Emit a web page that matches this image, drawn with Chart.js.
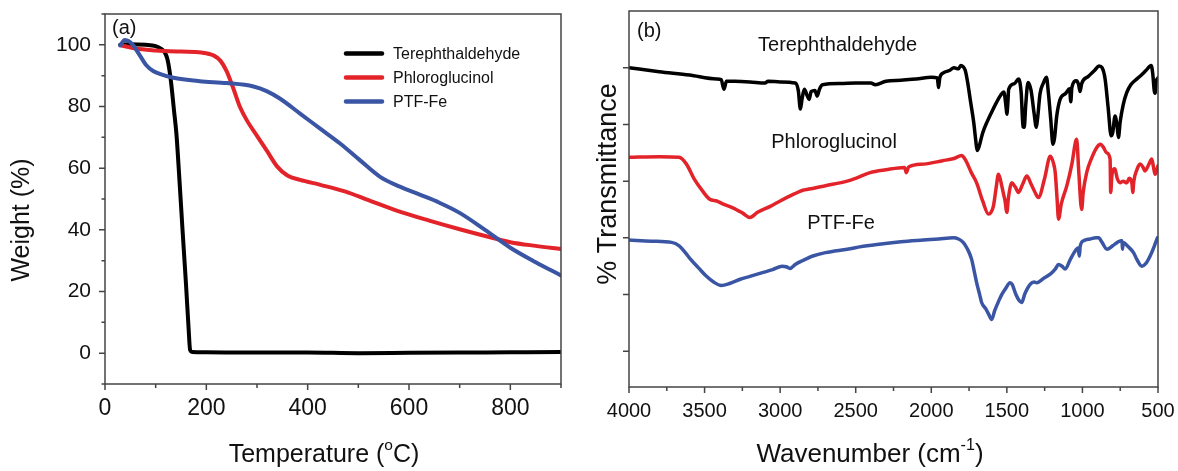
<!DOCTYPE html>
<html><head><meta charset="utf-8">
<script src="https://cdn.jsdelivr.net/npm/chart.js@4.4.1/dist/chart.umd.min.js"></script>
<style>
html,body{margin:0;padding:0;background:#fff;}
#wrap{position:relative;width:1178px;height:471px;overflow:hidden;background:#fff;}
#ca{position:absolute;left:0;top:0;}
#cb{position:absolute;left:580px;top:0;}
</style></head><body>
<div id="wrap"><canvas id="ca" width="580" height="471"></canvas><canvas id="cb" width="598" height="471"></canvas></div>
<script>
// ---------- Panel (a): TGA ----------
const tgaSeries = ['Terephthaldehyde', 'Phloroglucinol', 'PTF-Fe'];
const terephTemp = [30,50,80,100,110,118,123,127,131,136,141,147,153,160,165,168,172,200,300,400,500,600,700,800,900];
const terephWeight = [100,100.2,100,99.6,98.8,97.5,95.5,92,87,79,71,56,40,22,8,1,0.4,0.3,0.2,0.2,0,0.1,0.2,0.3,0.4];
const phloroTemp = [33,60,100,150,190,215,228,240,253,266,280,300,320,340,360,385,425,475,520,580,640,700,760,800,850,900];
const phloroWeight = [99.8,98.8,98.2,97.8,97.5,96.5,94.8,91.5,86,80,75.5,70.5,65.5,60.5,57.6,56.2,54.6,52.4,49.6,46,43,40.2,37.6,36,34.8,33.8];
const ptfTemp = [30,39,47,56,69,82,95,108,135,187,240,293,319,345,385,424,464,503,543,582,620,660,700,750,800,850,900];
const ptfWeight = [99.8,101.6,101.2,99.8,96.5,93.3,91.5,90.6,89.3,88.2,87.6,86.5,85,82.6,77.7,72.9,68,62.6,57.2,54,51.5,48.8,45.5,40,34.2,29.5,25.2];
const tempTicks = [0,100,200,300,400,500,600,700,800,900];
const weightTicks = [-10,0,10,20,30,40,50,60,70,80,90,100,110];

// ---------- Panel (b): FTIR ----------
const irSeries = ['Terephthaldehyde', 'Phloroglucinol', 'PTF-Fe'];
const terephWn = [4000,3800,3600,3420,3390,3372,3355,3300,3200,3100,3080,3000,2900,2880,2866,2855,2840,2820,2808,2795,2770,2755,2740,2720,2600,2500,2400,2370,2300,2200,2100,2000,1960,1952,1944,1920,1880,1850,1820,1805,1790,1775,1760,1740,1720,1705,1697,1685,1660,1630,1600,1570,1540,1520,1505,1500,1493,1488,1450,1423,1405,1393,1385,1375,1360,1340,1320,1305,1297,1280,1260,1238,1225,1210,1195,1185,1170,1148,1110,1085,1077,1070,1040,1025,1016,1005,960,920,890,870,850,830,810,800,784,770,762,750,730,707,680,650,619,580,545,535,525,519,512,500];
const terephT = [5.00,4.93,4.87,4.80,4.79,4.62,4.76,4.76,4.75,4.73,4.76,4.75,4.73,4.60,4.27,4.45,4.62,4.50,4.44,4.58,4.60,4.50,4.62,4.70,4.72,4.73,4.73,4.70,4.76,4.78,4.80,4.83,4.82,4.65,4.82,4.91,4.95,5.00,4.98,5.04,5.02,4.95,4.75,4.40,4.05,3.70,3.54,3.60,3.85,4.05,4.22,4.38,4.52,4.57,4.30,4.18,4.40,4.62,4.72,4.80,4.55,3.96,3.95,4.35,4.74,4.60,4.20,3.95,4.10,4.55,4.72,4.83,4.55,4.10,3.65,3.75,4.15,4.44,4.55,4.63,4.40,4.65,4.77,4.70,4.58,4.72,4.85,4.95,5.03,5.00,4.80,4.30,3.80,3.85,4.15,3.95,3.77,4.05,4.35,4.56,4.70,4.78,4.85,4.95,5.04,4.90,4.60,4.55,4.75,4.82];
const phloroWn = [4000,3800,3669,3620,3567,3520,3466,3420,3380,3313,3250,3200,3150,3062,3000,2910,2850,2809,2700,2556,2500,2405,2300,2177,2165,2150,2050,1925,1850,1798,1780,1765,1735,1700,1660,1622,1605,1589,1570,1556,1545,1534,1520,1512,1500,1490,1467,1445,1423,1395,1368,1340,1313,1291,1250,1213,1190,1180,1168,1158,1140,1103,1070,1045,1038,1025,1005,995,972,940,906,880,862,840,817,813,805,790,784,770,751,730,707,690,672,667,660,640,619,600,586,560,541,530,519,500];
const phloroT = [3.42,3.43,3.42,3.30,3.03,2.85,2.68,2.65,2.60,2.53,2.44,2.36,2.45,2.56,2.65,2.77,2.84,2.86,2.92,3.00,3.05,3.15,3.20,3.24,3.15,3.25,3.30,3.36,3.40,3.45,3.40,3.33,3.15,2.97,2.65,2.42,2.45,2.56,2.90,3.12,3.05,2.92,2.75,2.65,2.45,2.70,2.97,2.90,2.80,2.95,3.09,2.95,2.80,2.71,3.05,3.44,3.30,3.15,2.70,2.33,2.60,2.92,3.30,3.70,3.74,3.20,2.50,2.80,3.15,3.40,3.59,3.65,3.60,3.50,3.39,2.80,3.10,3.22,3.21,3.05,2.97,3.00,2.97,3.05,2.95,2.80,3.00,3.20,3.30,3.25,3.18,3.30,3.39,3.25,3.12,3.27];
const ptfWn = [4000,3850,3718,3668,3630,3592,3540,3491,3440,3390,3330,3264,3200,3112,3050,2986,2960,2935,2900,2850,2784,2700,2556,2450,2304,2200,2053,1950,1855,1820,1789,1760,1733,1715,1700,1680,1667,1640,1620,1601,1580,1555,1534,1510,1479,1465,1440,1420,1402,1380,1346,1320,1302,1260,1213,1180,1158,1135,1114,1080,1045,1030,1020,1015,992,950,910,893,870,838,800,770,745,738,735,730,700,662,640,607,580,552,525,504];
const ptfT = [1.96,1.94,1.92,1.86,1.75,1.62,1.47,1.33,1.22,1.16,1.20,1.27,1.32,1.39,1.44,1.50,1.49,1.46,1.53,1.60,1.68,1.74,1.80,1.85,1.90,1.93,1.96,1.98,2.00,1.98,1.92,1.80,1.62,1.40,1.21,1.00,0.86,0.75,0.65,0.56,0.72,0.88,1.00,1.10,1.21,1.18,1.00,0.90,0.86,1.02,1.18,1.22,1.21,1.28,1.36,1.45,1.53,1.50,1.45,1.62,1.78,1.82,1.68,1.85,1.95,1.98,2.00,2.00,1.92,1.80,1.86,1.92,1.95,1.95,1.80,1.92,1.85,1.74,1.62,1.50,1.55,1.68,1.85,2.00];
const wnTicks = [500,750,1000,1250,1500,1750,2000,2250,2500,2750,3000,3250,3500,3750,4000];
const transTicks = [0,1,2,3,4,5];

// ---------- helpers ----------
const FONT = "'Liberation Sans', Arial, Helvetica, sans-serif";
const COLORS = ['#000000', '#e3232a', '#3a55a4'];
function zip(xs, ys) { const n = Math.min(xs.length, ys.length); const o = []; for (let i = 0; i < n; i++) o.push({x: xs[i], y: ys[i]}); return o; }
function fixPad(s) { s.paddingTop = 0; s.paddingBottom = 0; s.paddingLeft = 0; s.paddingRight = 0; }

function frameTicks(o) {
  return {
    id: 'frameTicks',
    afterDraw(chart) {
      const {ctx, chartArea: a, scales} = chart;
      ctx.save();
      ctx.strokeStyle = o.color; ctx.lineWidth = o.width;
      ctx.strokeRect(a.left, a.top, a.right - a.left, a.bottom - a.top);
      ctx.beginPath();
      scales.x.ticks.forEach(t => {
        const p = scales.x.getPixelForValue(t.value);
        const len = (t.label !== '' && t.label != null) ? o.xMajor : o.xMinor;
        ctx.moveTo(p, a.bottom); ctx.lineTo(p, a.bottom + len);
      });
      scales.y.ticks.forEach(t => {
        const p = scales.y.getPixelForValue(t.value);
        const len = (o.yAllMajor || (t.label !== '' && t.label != null)) ? o.yMajor : o.yMinor;
        ctx.moveTo(a.left, p); ctx.lineTo(a.left - len, p);
      });
      ctx.stroke();
      ctx.restore();
    }
  };
}

function drawParts(ctx, parts, cx, cy, size, rotate) {
  ctx.save();
  ctx.translate(cx, cy);
  if (rotate) ctx.rotate(-Math.PI / 2);
  ctx.textBaseline = 'middle';
  ctx.textAlign = 'left';
  ctx.fillStyle = '#111';
  let total = 0;
  parts.forEach(p => { ctx.font = (p.sup ? size * 0.62 : size) + 'px ' + FONT; p.w = ctx.measureText(p.t).width; total += p.w; });
  let x = -total / 2;
  parts.forEach(p => {
    ctx.font = (p.sup ? size * 0.62 : size) + 'px ' + FONT;
    ctx.fillText(p.t, x, p.sup ? -size * 0.38 : 0);
    x += p.w;
  });
  ctx.restore();
}

// ---------- Chart (a) ----------
const legendA = {
  id: 'legendA',
  afterDraw(chart) {
    const ctx = chart.ctx;
    ctx.save();
    const rows = [53.5, 77.5, 101.5];
    chart.data.datasets.forEach((ds, i) => {
      ctx.strokeStyle = ds.borderColor; ctx.lineWidth = 4.5; ctx.lineCap = 'round';
      ctx.beginPath(); ctx.moveTo(346, rows[i]); ctx.lineTo(382, rows[i]); ctx.stroke();
      ctx.fillStyle = '#111'; ctx.font = '16px ' + FONT; ctx.textBaseline = 'middle'; ctx.textAlign = 'left';
      ctx.fillText(ds.label, 393, rows[i] + 1);
    });
    ctx.font = '20px ' + FONT; ctx.fillStyle = '#111';
    ctx.fillText('(a)', 112, 28);
    drawParts(ctx, [{t: 'Weight (%)'}], 22, 220, 25, true);
    drawParts(ctx, [{t: 'Temperature ('}, {t: 'o', sup: true}, {t: 'C)'}], 324, 455, 25, false);
    ctx.restore();
  }
};

new Chart(document.getElementById('ca'), {
  type: 'line',
  data: {
    datasets: [
      {label: tgaSeries[0], data: zip(terephTemp, terephWeight), borderColor: COLORS[0], order: 3},
      {label: tgaSeries[1], data: zip(phloroTemp, phloroWeight), borderColor: COLORS[1], order: 2},
      {label: tgaSeries[2], data: zip(ptfTemp, ptfWeight), borderColor: COLORS[2], order: 1}
    ]
  },
  options: {
    responsive: false, devicePixelRatio: 1, animation: false,
    layout: {padding: {left: 0, top: 14, right: 19, bottom: 0}},
    elements: {point: {radius: 0}, line: {borderWidth: 4, cubicInterpolationMode: 'monotone', borderJoinStyle: 'round', borderCapStyle: 'round'}},
    plugins: {legend: {display: false}, tooltip: {enabled: false}},
    scales: {
      x: {
        type: 'linear', min: 0, max: 900,
        afterBuildTicks: s => { s.ticks = tempTicks.map(v => ({value: v})); },
        afterFit: s => { s.height = 87; fixPad(s); },
        grid: {display: false, drawTicks: false}, border: {display: false},
        ticks: {autoSkip: false, maxRotation: 0, padding: 11, color: '#111', font: {family: FONT, size: 23},
          callback: v => (v % 200 === 0 ? String(v) : '')},
        title: {display: false}
      },
      y: {
        type: 'linear', min: -10, max: 110,
        afterBuildTicks: s => { s.ticks = weightTicks.map(v => ({value: v})); },
        afterFit: s => { s.width = 105; fixPad(s); },
        grid: {display: false, drawTicks: false}, border: {display: false},
        ticks: {autoSkip: false, padding: 14, color: '#111', font: {family: FONT, size: 21},
          callback: v => (v % 20 === 0 ? String(v) : '')},
        title: {display: false}
      }
    }
  },
  plugins: [frameTicks({color: '#444', width: 1.5, xMajor: 6, xMinor: 4, yMajor: 6, yMinor: 3.5}), legendA]
});

// ---------- Chart (b) ----------
const irLabels = {
  id: 'irLabels',
  afterDraw(chart) {
    const ctx = chart.ctx, sx = chart.scales.x, sy = chart.scales.y;
    ctx.save();
    ctx.fillStyle = '#111';
    ctx.font = '20px ' + FONT; ctx.textAlign = 'center'; ctx.textBaseline = 'middle';
    const pos = [[2620, 5.39], [2643, 3.69], [2597, 2.245]];
    irSeries.forEach((name, i) => ctx.fillText(name, sx.getPixelForValue(pos[i][0]), sy.getPixelForValue(pos[i][1])));
    ctx.textAlign = 'left';
    ctx.fillText('(b)', 57, 31);
    drawParts(ctx, [{t: '% Transmittance'}], 29, 184, 27, true);
    drawParts(ctx, [{t: 'Wavenumber (cm'}, {t: '-1', sup: true}, {t: ')'}], 290, 455, 26, false);
    ctx.restore();
  }
};

new Chart(document.getElementById('cb'), {
  type: 'line',
  data: {
    datasets: [
      {label: irSeries[0], data: zip(terephWn, terephT), borderColor: COLORS[0]},
      {label: irSeries[1], data: zip(phloroWn, phloroT), borderColor: COLORS[1]},
      {label: irSeries[2], data: zip(ptfWn, ptfT), borderColor: COLORS[2]}
    ]
  },
  options: {
    responsive: false, devicePixelRatio: 1, animation: false,
    layout: {padding: {left: 0, top: 11, right: 20, bottom: 0}},
    elements: {point: {radius: 0}, line: {borderWidth: 3.5, cubicInterpolationMode: 'monotone', borderJoinStyle: 'round', borderCapStyle: 'round'}},
    plugins: {legend: {display: false}, tooltip: {enabled: false}},
    scales: {
      x: {
        type: 'linear', min: 500, max: 4000, reverse: true,
        afterBuildTicks: s => { s.ticks = wnTicks.map(v => ({value: v})); },
        afterFit: s => { s.height = 84; fixPad(s); },
        grid: {display: false, drawTicks: false}, border: {display: false},
        ticks: {autoSkip: false, maxRotation: 0, padding: 12, color: '#111', font: {family: FONT, size: 20},
          callback: v => (v % 500 === 0 ? String(v) : '')},
        title: {display: false}
      },
      y: {
        type: 'linear', min: -0.63, max: 6,
        afterBuildTicks: s => { s.ticks = transTicks.map(v => ({value: v})); },
        afterFit: s => { s.width = 49; fixPad(s); },
        grid: {display: false, drawTicks: false}, border: {display: false},
        ticks: {display: false},
        title: {display: false}
      }
    }
  },
  plugins: [frameTicks({color: '#444', width: 1.5, xMajor: 6, xMinor: 4, yMajor: 6, yMinor: 6, yAllMajor: true}), irLabels]
});
</script>
</body></html>
